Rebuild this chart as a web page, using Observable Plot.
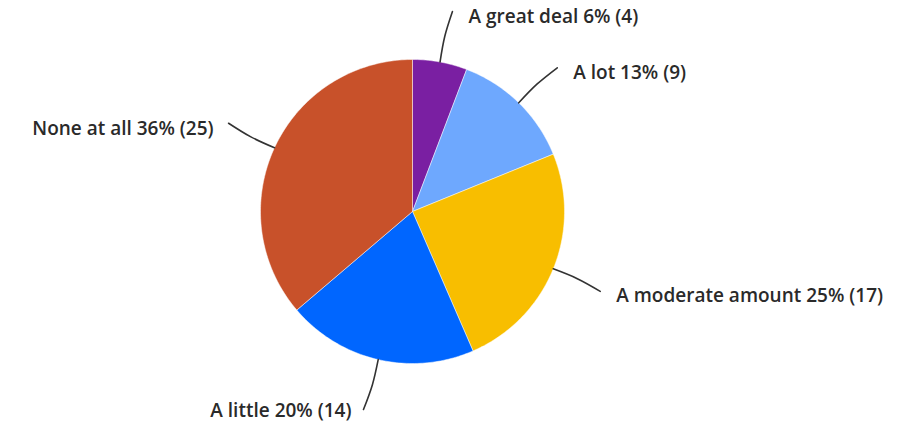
<!DOCTYPE html>
<html><head><meta charset="utf-8">
<script src="https://cdn.jsdelivr.net/npm/d3@7"></script>
<script src="https://cdn.jsdelivr.net/npm/@observablehq/plot@0.6"></script>
<style>body{margin:0;background:#fff}</style>
</head><body><div id="chart"></div>
<script>
const categories = ["A great deal", "A lot", "A moderate amount", "A little", "None at all"];
const counts = [4, 9, 17, 14, 25];
const percentLabels = ["6%", "13%", "25%", "20%", "36%"];
const colors = ["#7A1FA2", "#6EA8FE", "#F8BE00", "#0066FF", "#C8512A"];

const W = 898, H = 425, cx = 412, cy = 211, R = 152, RL = 204;
const arcs = d3.pie().sort(null).value(d => d)(counts);

const slices = [];
arcs.forEach((a, i) => {
  const cat = categories[i];
  const n = Math.max(2, Math.ceil((a.endAngle - a.startAngle) / (Math.PI / 180)));
  slices.push({cat, x: 0, y: 0});
  for (let k = 0; k <= n; k++) {
    const t = a.startAngle + (a.endAngle - a.startAngle) * k / n;
    slices.push({cat, x: R * Math.sin(t), y: R * Math.cos(t)});
  }
  slices.push({cat, x: 0, y: 0});
});

const leaders = [];
const labels = [];
arcs.forEach((a, i) => {
  const cat = categories[i];
  const m = (a.startAngle + a.endAngle) / 2;
  const bend = 0.015;
  const pts = [[R, m], [(R + RL) / 2, m], [RL, m + bend]];
  pts.forEach(([r, t]) => leaders.push({cat, x: r * Math.sin(t), y: r * Math.cos(t)}));
  const ex = RL * Math.sin(m + bend), ey = RL * Math.cos(m + bend);
  const side = Math.cos(m) < -0.9 ? "bottom" : (Math.sin(m) >= 0 ? "right" : "left");
  labels.push({x: ex, y: ey, side, text: `${cat} ${percentLabels[i]} (${counts[i]})`});
});

const font = {fontSize: 19, fontFamily: "'Open Sans', sans-serif", fontWeight: 600, fill: "#2a2a2a"};

const chart = Plot.plot({
  width: W, height: H, margin: 0,
  x: {domain: [-cx, W - cx], range: [0, W], axis: null},
  y: {domain: [-(H - cy), cy], range: [H, 0], axis: null},
  color: {domain: categories, range: colors},
  style: {background: "#fff"},
  marks: [
    Plot.line(slices, {x: "x", y: "y", z: "cat", fill: "cat", stroke: "#fff", strokeWidth: 0.8, strokeOpacity: 0.6}),
    Plot.line(leaders, {x: "x", y: "y", z: "cat", stroke: "#333", strokeWidth: 1.6, curve: "natural"}),
    Plot.text(labels.filter(d => d.side === "right"), {x: "x", y: "y", text: "text", textAnchor: "start", dx: 16, dy: 5, ...font}),
    Plot.text(labels.filter(d => d.side === "left"), {x: "x", y: "y", text: "text", textAnchor: "end", dx: -15, dy: 6, ...font}),
    Plot.text(labels.filter(d => d.side === "bottom"), {x: "x", y: "y", text: "text", textAnchor: "end", dx: -12, dy: 1, ...font})
  ]
});
document.getElementById("chart").appendChild(chart);
</script>
</body></html>
